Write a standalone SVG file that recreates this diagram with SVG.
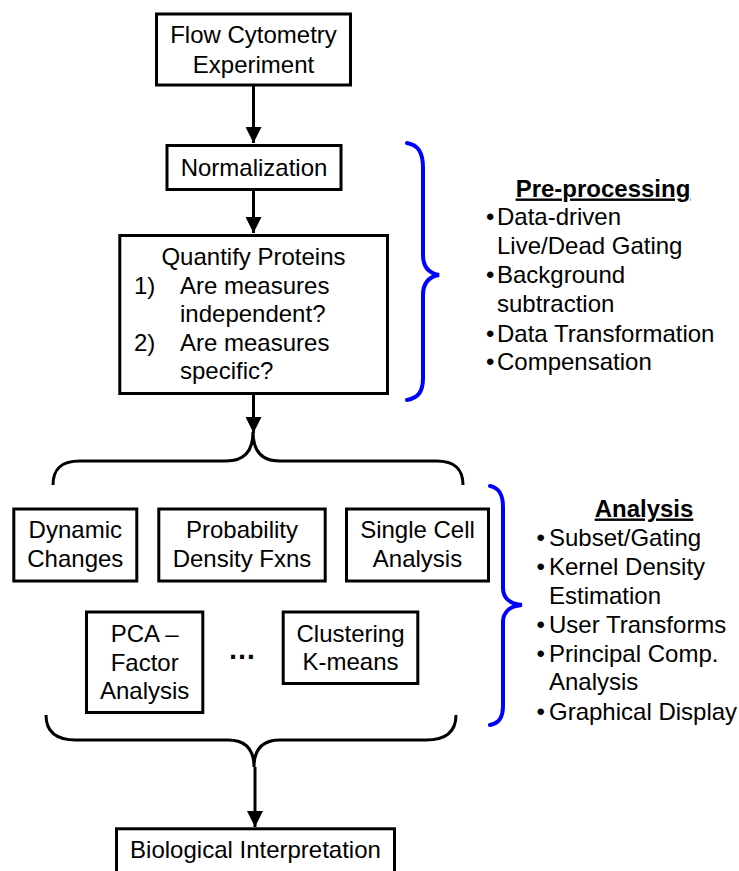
<svg xmlns="http://www.w3.org/2000/svg" width="739" height="871" viewBox="0 0 739 871">
<defs>
<style>
text{font-family:"Liberation Sans",Arial,sans-serif;font-size:24px;fill:#000}
.c{text-anchor:middle}
.box{fill:#fff;stroke:#000;stroke-width:3}
.edge{fill:none;stroke:#000;stroke-width:3}
.blue{fill:none;stroke:#0000ff;stroke-width:4;stroke-linecap:round}
.h{font-weight:bold;text-decoration:underline;text-anchor:middle}
</style>
<marker id="arr" markerUnits="userSpaceOnUse" markerWidth="16" markerHeight="16" refX="16" refY="8" orient="auto">
<path d="M0,0 L16,8 L0,16 z" fill="#000"/>
</marker>
</defs>
<rect width="739" height="871" fill="#fff"/>
<g id="connectors">
<line class="edge" x1="253.5" y1="86" x2="253.5" y2="143" marker-end="url(#arr)"/>
<line class="edge" x1="253.5" y1="190" x2="253.5" y2="233" marker-end="url(#arr)"/>
<line class="edge" x1="253.5" y1="394" x2="253.5" y2="433" marker-end="url(#arr)"/>
<path class="edge" d="M53,485 C53,470 60,461 80,461 L226,461 C245,461 253,450 253,432 C253,450 261,461 280,461 L436,461 C456,461 463,470 463,485"/>
<path class="edge" d="M46,715 C46,730 54,740 76,740 L228,740 C246,740 254,750 254,767 C254,750 262,740 280,740 L426,740 C448,740 456,730 456,715"/>
<line class="edge" x1="255" y1="767" x2="255" y2="827" marker-end="url(#arr)"/>
<path class="blue" d="M407,143 C418,145 423,152 423,168 L423,255 C423,266 428,273 439,275 C428,277 423,284 423,295 L423,378 C423,392 418,398 407,400"/>
<path class="blue" d="M490,486 C499,488 503,494 503,507 L503,588 C503,598 510,604 522,605 C510,606 503,612 503,622 L503,705 C503,718 499,723 490,725"/>
</g>
<g id="flow">
<rect class="box" x="156.5" y="14" width="194" height="71"/>
<text class="c" x="253.5" y="43">Flow Cytometry</text>
<text class="c" x="253.5" y="72.5">Experiment</text>
</g>
<g id="norm">
<rect class="box" x="167" y="145.5" width="174" height="44"/>
<text class="c" x="254" y="176">Normalization</text>
</g>
<g id="quantify">
<rect class="box" x="119.8" y="235.5" width="267.7" height="158"/>
<text class="c" x="253.5" y="265">Quantify Proteins</text>
<text x="134" y="294">1)</text>
<text x="180" y="294">Are measures</text>
<text x="180" y="322">independent?</text>
<text x="134" y="351">2)</text>
<text x="180" y="351">Are measures</text>
<text x="180" y="379">specific?</text>
</g>
<g id="preproc">
<text class="h" x="603" y="196.5">Pre-processing</text>
<text x="486" y="225">•</text><text x="497" y="225">Data-driven</text>
<text x="497" y="254">Live/Dead Gating</text>
<text x="486" y="283">•</text><text x="497" y="283">Background</text>
<text x="497" y="312">subtraction</text>
<text x="486" y="341.5">•</text><text x="497" y="341.5">Data Transformation</text>
<text x="486" y="369.5">•</text><text x="497" y="369.5">Compensation</text>
</g>
<g id="dynamic">
<rect class="box" x="13.8" y="509" width="123" height="72"/>
<text class="c" x="75.3" y="538">Dynamic</text>
<text class="c" x="75.3" y="567">Changes</text>
</g>
<g id="probability">
<rect class="box" x="158.8" y="509" width="166.4" height="72"/>
<text class="c" x="242" y="538">Probability</text>
<text class="c" x="242" y="567">Density Fxns</text>
</g>
<g id="singlecell">
<rect class="box" x="346.5" y="509" width="142" height="72"/>
<text class="c" x="417.5" y="538">Single Cell</text>
<text class="c" x="417.5" y="567">Analysis</text>
</g>
<g id="pca">
<rect class="box" x="86.5" y="612" width="116.3" height="100.5"/>
<text class="c" x="144.7" y="641.5">PCA –</text>
<text class="c" x="144.7" y="670.5">Factor</text>
<text class="c" x="144.7" y="699">Analysis</text>
</g>
<g id="ellipsis">
<text class="c" x="242" y="659" style="font-weight:bold;font-size:28px">…</text>
</g>
<g id="clustering">
<rect class="box" x="283.2" y="612" width="134.6" height="71.5"/>
<text class="c" x="350.5" y="641.5">Clustering</text>
<text class="c" x="350.5" y="670">K-means</text>
</g>
<g id="analysis">
<text class="h" x="644" y="516.5">Analysis</text>
<text x="536.5" y="546">•</text><text x="549" y="546">Subset/Gating</text>
<text x="536.5" y="575">•</text><text x="549" y="575">Kernel Density</text>
<text x="549" y="603.5">Estimation</text>
<text x="536.5" y="633">•</text><text x="549" y="633">User Transforms</text>
<text x="536.5" y="661.5">•</text><text x="549" y="661.5">Principal Comp.</text>
<text x="549" y="690">Analysis</text>
<text x="536.5" y="720">•</text><text x="549" y="720">Graphical Display</text>
</g>
<g id="bio">
<rect class="box" x="116.5" y="828.8" width="278" height="60"/>
<text class="c" x="255.5" y="858">Biological Interpretation</text>
</g>
</svg>
